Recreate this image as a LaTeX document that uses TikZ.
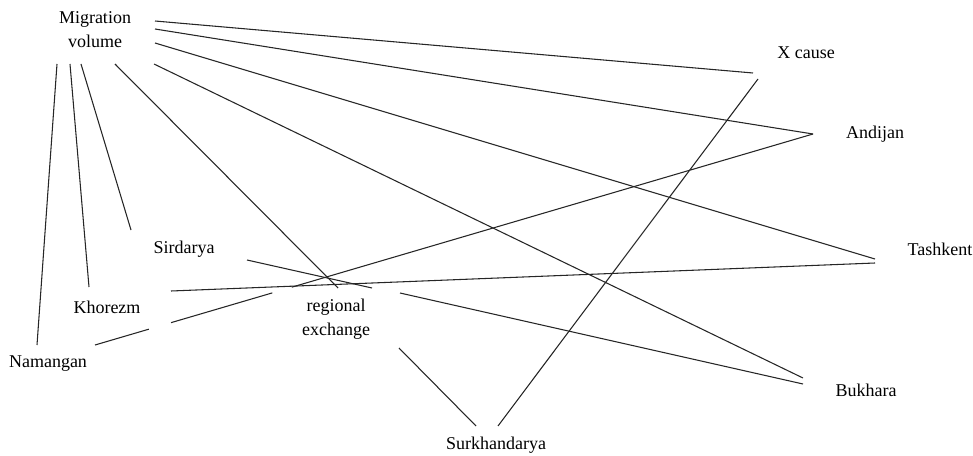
\documentclass[tikz,border=0pt]{standalone}
\usepackage{fontspec}
\setmainfont{Liberation Serif}
\usetikzlibrary{calc}

\tikzset{
  lbl/.style={inner sep=0pt, font=\fontsize{13.5}{17}\selectfont, align=center},
  link/.style={draw=black!85, line width=0.8pt}
}

\begin{document}
\begin{tikzpicture}[x=0.75pt, y=-0.75pt]
  \useasboundingbox (0,0) rectangle (973,456);

  % labels
  \node[lbl] (mig)  at (95,30)  {Migration\\[1pt]volume};
  \node[lbl] (xc)   at (806,53) {X cause};
  \node[lbl] (and)  at (875,134) {Andijan};
  \node[lbl] (tash) at (940,249) {Tashkent};
  \node[lbl] (sir)  at (184,249) {Sirdarya};
  \node[lbl] (kho)  at (107,307) {Khorezm};
  \node[lbl] (nam)  at (48,364) {Namangan};
  \node[lbl] (reg)  at (336,319) {regional\\[1pt]exchange};
  \node[lbl] (bukh) at (866,390) {Bukhara};
  \node[lbl] (surk) at (496,445) {Surkhandarya};

  % connector ends around each label
  \coordinate (mig-r1) at (155,21);
  \coordinate (mig-r2) at (155,29);
  \coordinate (mig-r3) at (155,43);
  \coordinate (mig-r4) at (154,64);
  \coordinate (mig-b1) at (57,64);
  \coordinate (mig-b2) at (70,64);
  \coordinate (mig-b3) at (81,64);
  \coordinate (mig-b4) at (115,64);
  \coordinate (xc-w)   at (753,73);
  \coordinate (xc-s)   at (758,79);
  \coordinate (and-w)  at (813,134);
  \coordinate (tash-w1) at (875,259);
  \coordinate (tash-w2) at (875,263);
  \coordinate (bukh-w1) at (803,378);
  \coordinate (bukh-w2) at (803,384);
  \coordinate (sir-n)  at (131,230);
  \coordinate (sir-e)  at (247,260);
  \coordinate (kho-n)  at (89,287);
  \coordinate (kho-e)  at (171,291);
  \coordinate (nam-n)  at (37,345);
  \coordinate (nam-e)  at (95,345);
  \coordinate (reg-n1) at (338,288);
  \coordinate (reg-n2) at (372,288);
  \coordinate (reg-e)  at (400,293);
  \coordinate (reg-s)  at (399,348);
  \coordinate (surk-n1) at (476,426);
  \coordinate (surk-n2) at (498,426);

  % links from the migration volume
  \draw[link] (mig-r1) -- (xc-w);
  \draw[link] (mig-r2) -- (and-w);
  \draw[link] (mig-r3) -- (tash-w1);
  \draw[link] (mig-r4) -- (bukh-w1);
  \draw[link] (mig-b4) -- (reg-n1);
  \draw[link] (mig-b1) -- (nam-n);
  \draw[link] (mig-b2) -- (kho-n);
  \draw[link] (mig-b3) -- (sir-n);

  % links through the regional exchange
  \draw[link] (sir-e) -- (reg-n2);
  \draw[link] (reg-e) -- (bukh-w2);
  \draw[link] (reg-s) -- (surk-n1);

  % remaining links
  \draw[link] (xc-s) -- (surk-n2);
  \draw[link] (kho-e) -- (tash-w2);
  \draw[link] (nam-e) -- ($(nam-e)!0.075!(and-w)$)
              ($(nam-e)!0.106!(and-w)$) -- ($(nam-e)!0.247!(and-w)$)
              ($(nam-e)!0.274!(and-w)$) -- (and-w);
\end{tikzpicture}
\end{document}
